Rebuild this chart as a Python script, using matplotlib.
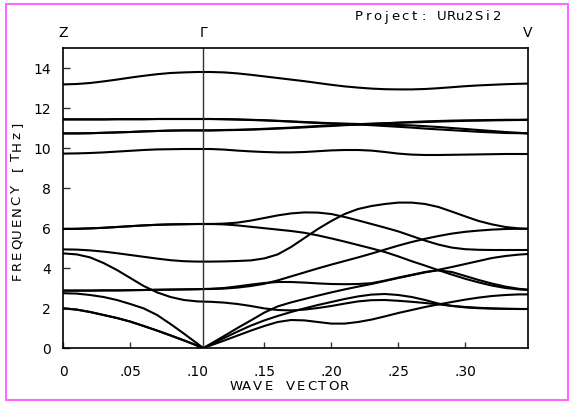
import numpy as np
import matplotlib
matplotlib.use('Agg')
import matplotlib.pyplot as plt
from matplotlib.patches import Rectangle

# wave vector grid: Z ... Gamma ... V
q = [0.0, 0.01, 0.02, 0.03, 0.04, 0.05, 0.06, 0.07, 0.08, 0.09, 0.10, 0.1045,
     0.11, 0.12, 0.13, 0.14, 0.15, 0.16, 0.17, 0.18, 0.19, 0.20, 0.21, 0.22,
     0.23, 0.24, 0.25, 0.26, 0.27, 0.28, 0.29, 0.30, 0.31, 0.32, 0.33, 0.34, 0.3468]
q_gamma = 0.1045
q_v = 0.3468
sym_labels = ['Z', 'Γ', 'V']
sym_pos = [0.0, q_gamma, q_v]

# phonon branches (THz)
band_top = [13.18, 13.20, 13.25, 13.33, 13.42, 13.52, 13.61, 13.69, 13.75, 13.78, 13.80, 13.80,
            13.80, 13.78, 13.73, 13.66, 13.58, 13.50, 13.42, 13.34, 13.25, 13.16, 13.08, 13.02,
            12.97, 12.94, 12.93, 12.93, 12.95, 12.99, 13.04, 13.09, 13.13, 13.16, 13.19, 13.21, 13.22]
band_114a = [11.43, 11.43, 11.43, 11.43, 11.44, 11.44, 11.44, 11.45, 11.45, 11.45, 11.45, 11.45,
             11.45, 11.44, 11.42, 11.40, 11.38, 11.35, 11.32, 11.28, 11.25, 11.22, 11.20, 11.17,
             11.14, 11.10, 11.06, 11.02, 10.97, 10.93, 10.89, 10.85, 10.81, 10.78, 10.75, 10.74, 10.73]
band_114b = [11.43, 11.43, 11.43, 11.43, 11.44, 11.44, 11.44, 11.45, 11.45, 11.45, 11.45, 11.45,
             11.45, 11.44, 11.43, 11.41, 11.39, 11.36, 11.33, 11.30, 11.27, 11.24, 11.22, 11.20,
             11.18, 11.17, 11.15, 11.13, 11.09, 11.05, 11.00, 10.95, 10.90, 10.85, 10.80, 10.76, 10.73]
band_109a = [10.73, 10.73, 10.74, 10.76, 10.78, 10.80, 10.83, 10.85, 10.87, 10.88, 10.88, 10.88,
             10.88, 10.89, 10.90, 10.92, 10.94, 10.97, 11.00, 11.03, 11.07, 11.10, 11.14, 11.17,
             11.20, 11.23, 11.26, 11.28, 11.30, 11.32, 11.34, 11.36, 11.37, 11.38, 11.39, 11.40, 11.40]
band_109b = [10.73, 10.73, 10.74, 10.76, 10.78, 10.80, 10.83, 10.85, 10.87, 10.88, 10.88, 10.88,
             10.88, 10.90, 10.91, 10.93, 10.96, 10.99, 11.02, 11.06, 11.10, 11.13, 11.16, 11.19,
             11.22, 11.24, 11.27, 11.30, 11.33, 11.35, 11.37, 11.38, 11.39, 11.40, 11.41, 11.41, 11.42]
band_99 = [9.72, 9.73, 9.75, 9.78, 9.82, 9.86, 9.90, 9.93, 9.94, 9.95, 9.95, 9.95,
           9.95, 9.92, 9.87, 9.83, 9.80, 9.78, 9.78, 9.80, 9.84, 9.88, 9.90, 9.90,
           9.87, 9.80, 9.72, 9.67, 9.65, 9.65, 9.66, 9.67, 9.68, 9.69, 9.70, 9.70, 9.70]
band_62u = [5.95, 5.96, 5.98, 6.01, 6.05, 6.09, 6.13, 6.16, 6.18, 6.19, 6.20, 6.20,
            6.20, 6.22, 6.27, 6.37, 6.50, 6.63, 6.73, 6.78, 6.77, 6.70, 6.55, 6.38,
            6.20, 6.02, 5.83, 5.60, 5.37, 5.17, 5.02, 4.94, 4.91, 4.90, 4.90, 4.90, 4.90]
band_62d = [5.95, 5.96, 5.98, 6.01, 6.05, 6.09, 6.13, 6.16, 6.18, 6.19, 6.20, 6.20,
            6.20, 6.18, 6.13, 6.06, 5.99, 5.92, 5.85, 5.76, 5.63, 5.48, 5.32, 5.15,
            4.98, 4.80, 4.58, 4.34, 4.12, 3.89, 3.67, 3.46, 3.28, 3.12, 3.00, 2.93, 2.90]
band_43 = [4.93, 4.92, 4.88, 4.82, 4.74, 4.65, 4.56, 4.47, 4.39, 4.34, 4.32, 4.32,
           4.32, 4.33, 4.35, 4.38, 4.48, 4.68, 5.05, 5.50, 5.95, 6.35, 6.70, 6.95,
           7.10, 7.20, 7.27, 7.27, 7.20, 7.05, 6.82, 6.58, 6.35, 6.18, 6.05, 5.98, 5.96]
band_23 = [4.73, 4.68, 4.53, 4.25, 3.90, 3.50, 3.10, 2.78, 2.55, 2.40, 2.33, 2.32,
           2.31, 2.27, 2.20, 2.10, 1.98, 1.90, 1.88, 1.92, 2.00, 2.10, 2.22, 2.33,
           2.39, 2.40, 2.36, 2.31, 2.25, 2.18, 2.11, 2.05, 2.01, 1.98, 1.96, 1.95, 1.95]
band_29a = [2.87, 2.87, 2.87, 2.88, 2.88, 2.89, 2.90, 2.91, 2.92, 2.93, 2.94, 2.95,
            2.95, 2.97, 3.02, 3.10, 3.21, 3.38, 3.58, 3.78, 3.98, 4.17, 4.35, 4.53,
            4.72, 4.92, 5.12, 5.30, 5.46, 5.60, 5.72, 5.81, 5.87, 5.92, 5.95, 5.96, 5.96]
band_29b = [2.87, 2.87, 2.87, 2.88, 2.88, 2.89, 2.90, 2.91, 2.92, 2.93, 2.94, 2.95,
            2.96, 3.00, 3.08, 3.17, 3.25, 3.30, 3.30, 3.27, 3.23, 3.20, 3.19, 3.20,
            3.24, 3.37, 3.52, 3.66, 3.80, 3.88, 3.80, 3.60, 3.40, 3.22, 3.07, 2.96, 2.92]
band_ac1 = [1.98, 1.92, 1.80, 1.65, 1.50, 1.32, 1.10, 0.87, 0.63, 0.38, 0.12, 0.00,
            0.21, 0.60, 1.00, 1.38, 1.77, 2.08, 2.28, 2.45, 2.62, 2.78, 2.93, 3.07,
            3.20, 3.35, 3.50, 3.64, 3.78, 3.91, 4.05, 4.20, 4.35, 4.50, 4.60, 4.67, 4.70]
band_ac2 = [1.98, 1.92, 1.80, 1.65, 1.50, 1.32, 1.10, 0.87, 0.63, 0.38, 0.12, 0.00,
            0.17, 0.50, 0.82, 1.12, 1.38, 1.60, 1.80, 1.98, 2.15, 2.30, 2.45, 2.58,
            2.67, 2.70, 2.65, 2.55, 2.40, 2.22, 2.10, 2.03, 1.99, 1.97, 1.96, 1.95, 1.95]
band_ac3 = [2.74, 2.72, 2.65, 2.55, 2.40, 2.20, 1.98, 1.65, 1.20, 0.72, 0.22, 0.00,
            0.13, 0.37, 0.62, 0.87, 1.10, 1.30, 1.40, 1.38, 1.30, 1.22, 1.22, 1.30,
            1.42, 1.58, 1.75, 1.90, 2.05, 2.18, 2.30, 2.42, 2.52, 2.60, 2.65, 2.68, 2.68]

bands = [band_top, band_114a, band_114b, band_109a, band_109b, band_99,
         band_62u, band_62d, band_43, band_23, band_29a, band_29b,
         band_ac1, band_ac2, band_ac3]

xticks = [0, 0.05, 0.10, 0.15, 0.20, 0.25, 0.30]
xtick_labels = ['0', '.05', '.10', '.15', '.20', '.25', '.30']
yticks = [0, 2, 4, 6, 8, 10, 12, 14]

W, H = 574, 401
fig = plt.figure(figsize=(W / 100, H / 100), dpi=100, facecolor='white')
ax = fig.add_axes([63.3 / W, 53 / H, 464.7 / W, 300 / H])

for b in bands:
    ax.plot(q, b, color='black', lw=1.5, solid_capstyle='round')

ax.axvline(q_gamma, color='#333333', lw=1.0)

ax.set_xlim(0, q_v)
ax.set_ylim(0, 15)
ax.set_xticks(xticks)
ax.set_xticklabels(xtick_labels)
ax.set_yticks(yticks)
ax.tick_params(axis='both', direction='in', width=1, colors='#333333',
               labelcolor='black', labelsize=10)
ax.tick_params(axis='y', length=5, pad=9)
ax.tick_params(axis='x', length=4, pad=12)
for s in ax.spines.values():
    s.set_linewidth(1.2)
    s.set_color('black')


def spaced(x0, y0, text, step, vertical=False, size=9.5):
    # draw text one character at a time to mimic the wide letter spacing
    for i, ch in enumerate(text):
        if vertical:
            fig.text(x0 / W, 1 - (y0 - i * step) / H, ch, rotation=90,
                     ha='center', va='center', fontsize=size)
        else:
            fig.text((x0 + i * step) / W, 1 - y0 / H, ch,
                     ha='center', va='center', fontsize=size)


spaced(359, 17, 'Project: URu2Si2', 9.2)
spaced(236, 386, 'WAVE VECTOR', 10.8)
spaced(17, 276, 'FREQUENCY [THz]', 10.8, vertical=True)

for lab, qp in zip(sym_labels, sym_pos):
    px = 63.3 + qp / q_v * 464.7
    fig.text(px / W, 1 - 33 / H, lab, ha='center', va='center', fontsize=10)

# magenta frame around the whole picture
fig.patches.append(Rectangle((5.5 / W, 1.2 / H), 562.5 / W, 395.5 / H,
                             transform=fig.transFigure, fill=False,
                             edgecolor='#ff66ff', lw=1.5))

fig.savefig('out.png', dpi=100)
